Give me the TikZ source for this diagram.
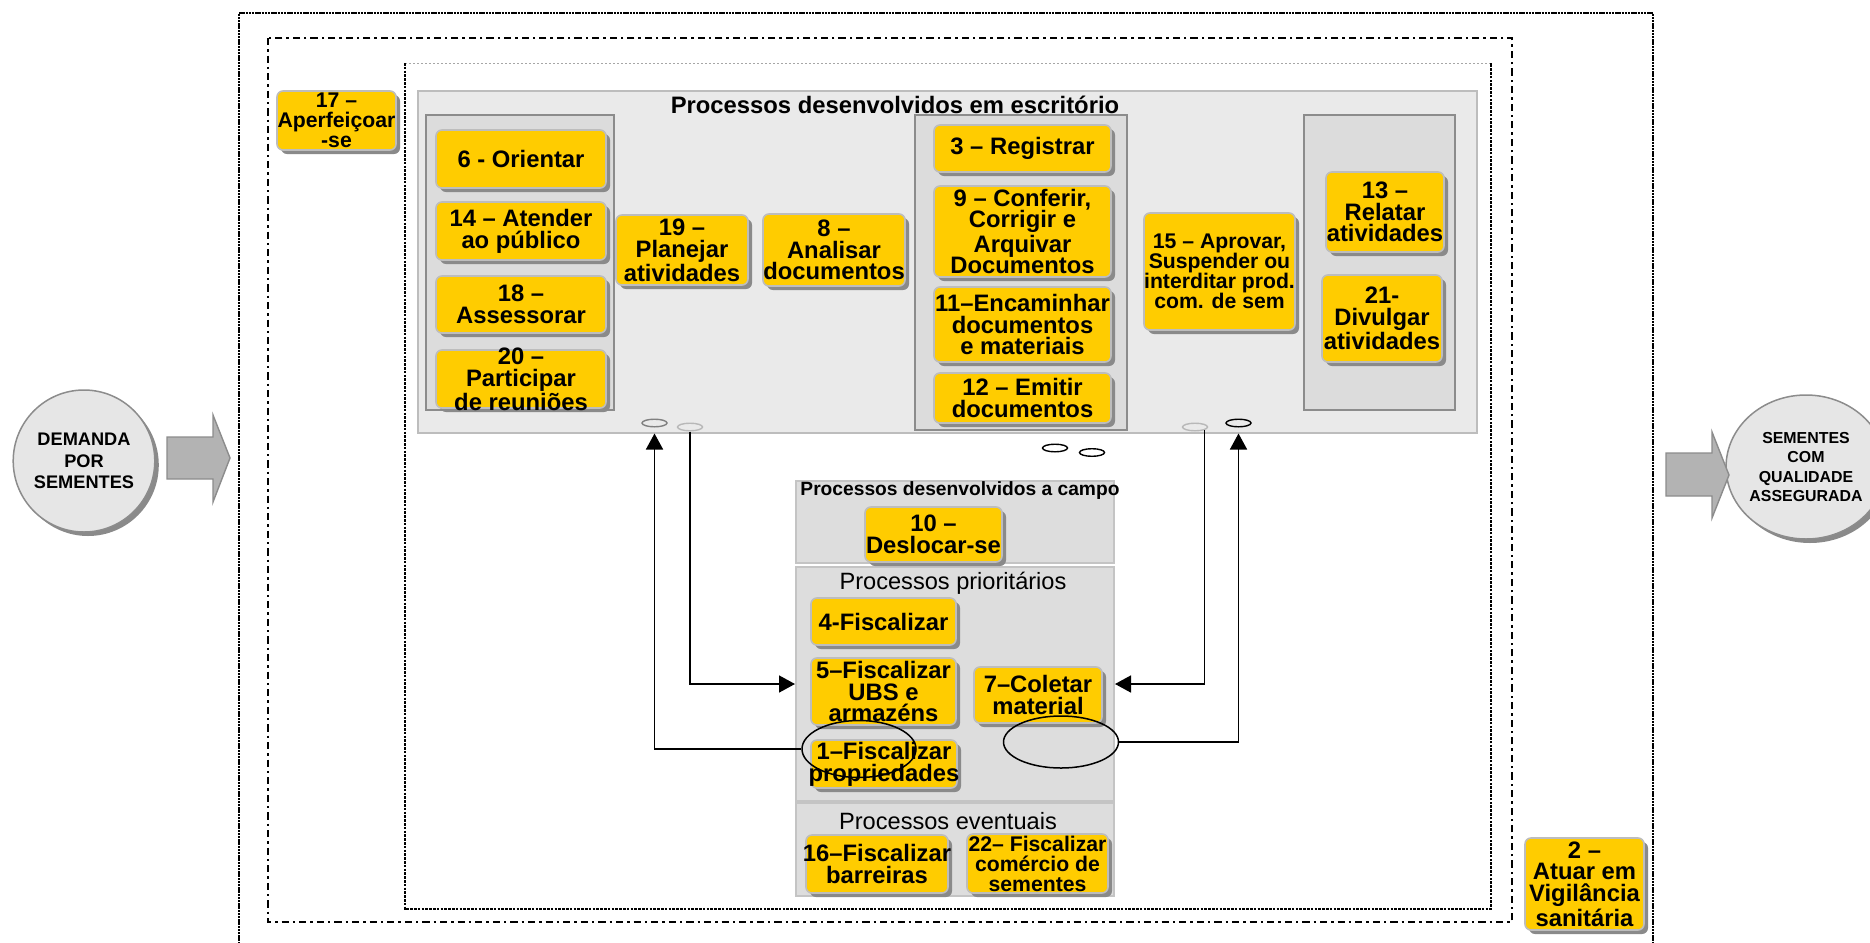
\documentclass[tikz,border=0pt]{standalone}
\usepackage{fontspec}
\setmainfont{Liberation Sans}
\usetikzlibrary{fit,shapes.geometric,shadows,arrows.meta}

\definecolor{procyellow}{HTML}{FFCC00}
\definecolor{procedge}{HTML}{BDBDBD}
\definecolor{procshadow}{HTML}{8A8A8A}
\definecolor{panelfill}{HTML}{EAEAEA}
\definecolor{paneledge}{HTML}{BDBDBD}
\definecolor{groupfill}{HTML}{DCDCDC}
\definecolor{groupedge}{HTML}{8C8C8C}
\definecolor{fieldfill}{HTML}{DDDDDD}
\definecolor{fieldedge}{HTML}{C4C4C4}
\definecolor{circfill}{HTML}{E6E6E6}
\definecolor{circedge}{HTML}{8C8C8C}
\definecolor{arrowfill}{HTML}{B3B3B3}

% process box: yellow rounded box with shadow, text set on top
\newcommand\procnode[7][]{%
  \node[procbox, fit={(#3,#4) (#5,#6)}] (#2) {};
  \node[proctext,#1] (#2-t) at (#2.center) {#7};
}

\begin{document}
\begin{tikzpicture}[x=0.5pt,y=-0.5pt,
  procbox/.style={rectangle, rounded corners=3pt, fill=procyellow, draw=procedge,
    line width=0.8pt, inner sep=0pt,
    drop shadow={shadow xshift=2pt, shadow yshift=-2pt, fill=procshadow, opacity=1}},
  proctext/.style={align=center, inner sep=0pt,
    font=\fontsize{11.9}{10.9}\selectfont\bfseries},
  smalltext/.style={font=\fontsize{10.6}{10}\selectfont\bfseries},
  panelbox/.style={rectangle, fill=panelfill, draw=paneledge, line width=1pt, inner sep=0pt},
  groupbox/.style={rectangle, fill=groupfill, draw=groupedge, line width=0.8pt, inner sep=0pt},
  fieldbox/.style={rectangle, fill=fieldfill, draw=fieldedge, line width=1pt, inner sep=0pt},
  titlebold/.style={inner sep=0pt, font=\fontsize{11.9}{12}\selectfont\bfseries},
  fieldtitle/.style={inner sep=0pt, font=\fontsize{9.6}{10}\selectfont\bfseries},
  titleplain/.style={inner sep=0pt, font=\fontsize{11.8}{12}\selectfont},
  smallell/.style={ellipse, minimum width=12.5pt, minimum height=3.8pt, inner sep=0pt, line width=0.7pt},
  bigell/.style={ellipse, inner sep=0pt, draw=black, line width=0.75pt},
  conn/.style={line width=0.8pt, -{Triangle[length=8pt,width=8.5pt]}},
  seedcircle/.style={ellipse, fill=circfill, draw=circedge, line width=0.75pt, inner sep=0pt,
    align=center,
    drop shadow={shadow xshift=2pt, shadow yshift=-2pt, fill=procshadow, opacity=1}},
  bigarrow/.style={fill=arrowfill, draw=groupedge, line width=0.7pt},
  outerframe/.style={line width=1.3pt, dash pattern=on 1.2pt off 0.4pt},
  midframe/.style={line width=1.3pt, dash pattern=on 3.6pt off 2pt on 1.2pt off 2pt},
  innerframe/.style={line width=1.3pt, dash pattern=on 1.3pt off 0.6pt},
  innertop/.style={line width=0.5pt, draw=black!35, dash pattern=on 1pt off 1pt}
]
\useasboundingbox (0,0) rectangle (1870,943);

% nested frames
\draw[outerframe] (239,960) -- (239,13) -- (1653,13) -- (1653,960);
\draw[midframe] (268,38) rectangle (1512,922);
\draw[innertop] (405,63) -- (1491,63);
\draw[innerframe] (405,63) -- (405,909) -- (1491,909) -- (1491,63);

% office panel and its groups
\node[panelbox, fit={(418,91) (1477,433)}] (office) {};
\node[groupbox, fit={(426,115) (614,410)}] (gleft) {};
\node[groupbox, fit={(915,115) (1127,430)}] (gmid) {};
\node[groupbox, fit={(1304,115) (1455,410)}] (gright) {};
\node[titlebold, anchor=base] (officetitle) at (895,113) {Processos desenvolvidos em escritório};

% field panels
\node[fieldbox, fit={(796,481) (1114,563)}] (campo) {};
\node[fieldbox, fit={(796,567) (1114,801)}] (prio) {};
\node[fieldbox, fit={(796,803) (1114,896)}] (event) {};
\node[fieldtitle, anchor=base] (campotitle) at (960,495) {Processos desenvolvidos a campo};
\node[titleplain, anchor=base] (priotitle) at (953,589) {Processos prioritários};
\node[titleplain, anchor=base] (eventtitle) at (948,829) {Processos eventuais};

% processes
\procnode[smalltext]{p17}{277}{91}{396}{150}{17 –\\Aperfeiçoar\\-se}
\procnode{p6}{436}{130}{606}{188}{6 - Orientar}
\procnode{p14}{436}{202}{606}{260}{14 – Atender\\ao público}
\procnode{p18}{436}{276}{606}{333}{18 –\\Assessorar}
\procnode{p20}{436}{350}{606}{408}{20 –\\Participar\\de reuniões}
\procnode{p19}{616}{215}{748}{285}{19 –\\Planejar\\atividades}
\procnode{p8}{763}{214}{905}{286}{8 –\\Analisar\\documentos}
\procnode{p3}{934}{125}{1111}{172}{3 – Registrar}
\procnode{p9}{934}{186}{1111}{277}{9 – Conferir,\\Corrigir e\\Arquivar\\Documentos}
\procnode{p11}{934}{287}{1111}{362}{11–Encaminhar\\documentos\\e materiais}
\procnode{p12}{934}{373}{1111}{423}{12 – Emitir\\documentos}
\procnode[smalltext]{p15}{1144}{213}{1295}{330}{15 – Aprovar,\\Suspender ou\\interditar prod.\\com. de sem}
\procnode{p13}{1326}{172}{1444}{252}{13 –\\Relatar\\atividades}
\procnode{p21}{1322}{275}{1442}{362}{21-\\Divulgar\\atividades}
\procnode{p10}{865}{507}{1002}{562}{10 –\\Deslocar-se}
\procnode{p4}{811}{598}{956}{645}{4-Fiscalizar}
\procnode{p5}{811}{658}{956}{725}{5–Fiscalizar\\UBS e\\armazéns}
\procnode{p7}{974}{667}{1102}{723}{7–Coletar\\material}
\procnode{p1}{811}{740}{957}{788}{1–Fiscalizar\\propriedades}
\procnode{p16}{806}{835}{948}{893}{16–Fiscalizar\\barreiras}
\procnode[smalltext]{p22}{967}{834}{1108}{893}{22– Fiscalizar\\comércio de\\sementes}
\procnode{p2}{1525}{838}{1644}{930}{2 –\\Atuar em\\Vigilância\\sanitária}

% small link ellipses
\node[smallell, draw=black!50] (e1) at (654.5,423) {};
\node[smallell, draw=black!28] (e2) at (690,427) {};
\node[smallell, draw=black!28] (e3) at (1195,427) {};
\node[smallell, draw=black] (e4) at (1238.5,423) {};
\node[smallell, draw=black] (e5) at (1055,448) {};
\node[smallell, draw=black] (e6) at (1092,452.5) {};

% large ellipses in the priority panel
\node[bigell, minimum width=57pt, minimum height=28.5pt] (ellL) at (859,749) {};
\node[bigell, minimum width=57.5pt, minimum height=26pt] (ellR) at (1061,742) {};

% connectors
\draw[conn, shorten >=3pt] (ellL.west) -| (e1.south);
\draw[conn] (e2.south) |- (prio.west);
\draw[conn] (e3.south east) |- (prio.east);
\draw[conn, shorten >=3pt] (ellR.east) -| (e4.south);

% input and output
\node[seedcircle, minimum width=69pt, minimum height=71pt,
  font=\fontsize{9.1}{10.85}\selectfont\bfseries] (demand) at (84,461) {DEMANDA\\POR\\SEMENTES};
\node[seedcircle, minimum width=71pt, minimum height=72pt,
  font=\fontsize{7.95}{9.7}\selectfont\bfseries] (quality) at (1806,467) {SEMENTES\\COM\\QUALIDADE\\ASSEGURADA};
\draw[bigarrow] (167,437) -- (213,437) -- (213,415) -- (230,458) -- (213,502) -- (213,479) -- (167,479) -- cycle;
\draw[bigarrow] (1666,453) -- (1712,453) -- (1712,432) -- (1729,475) -- (1712,518) -- (1712,496) -- (1666,496) -- cycle;
\end{tikzpicture}
\end{document}
